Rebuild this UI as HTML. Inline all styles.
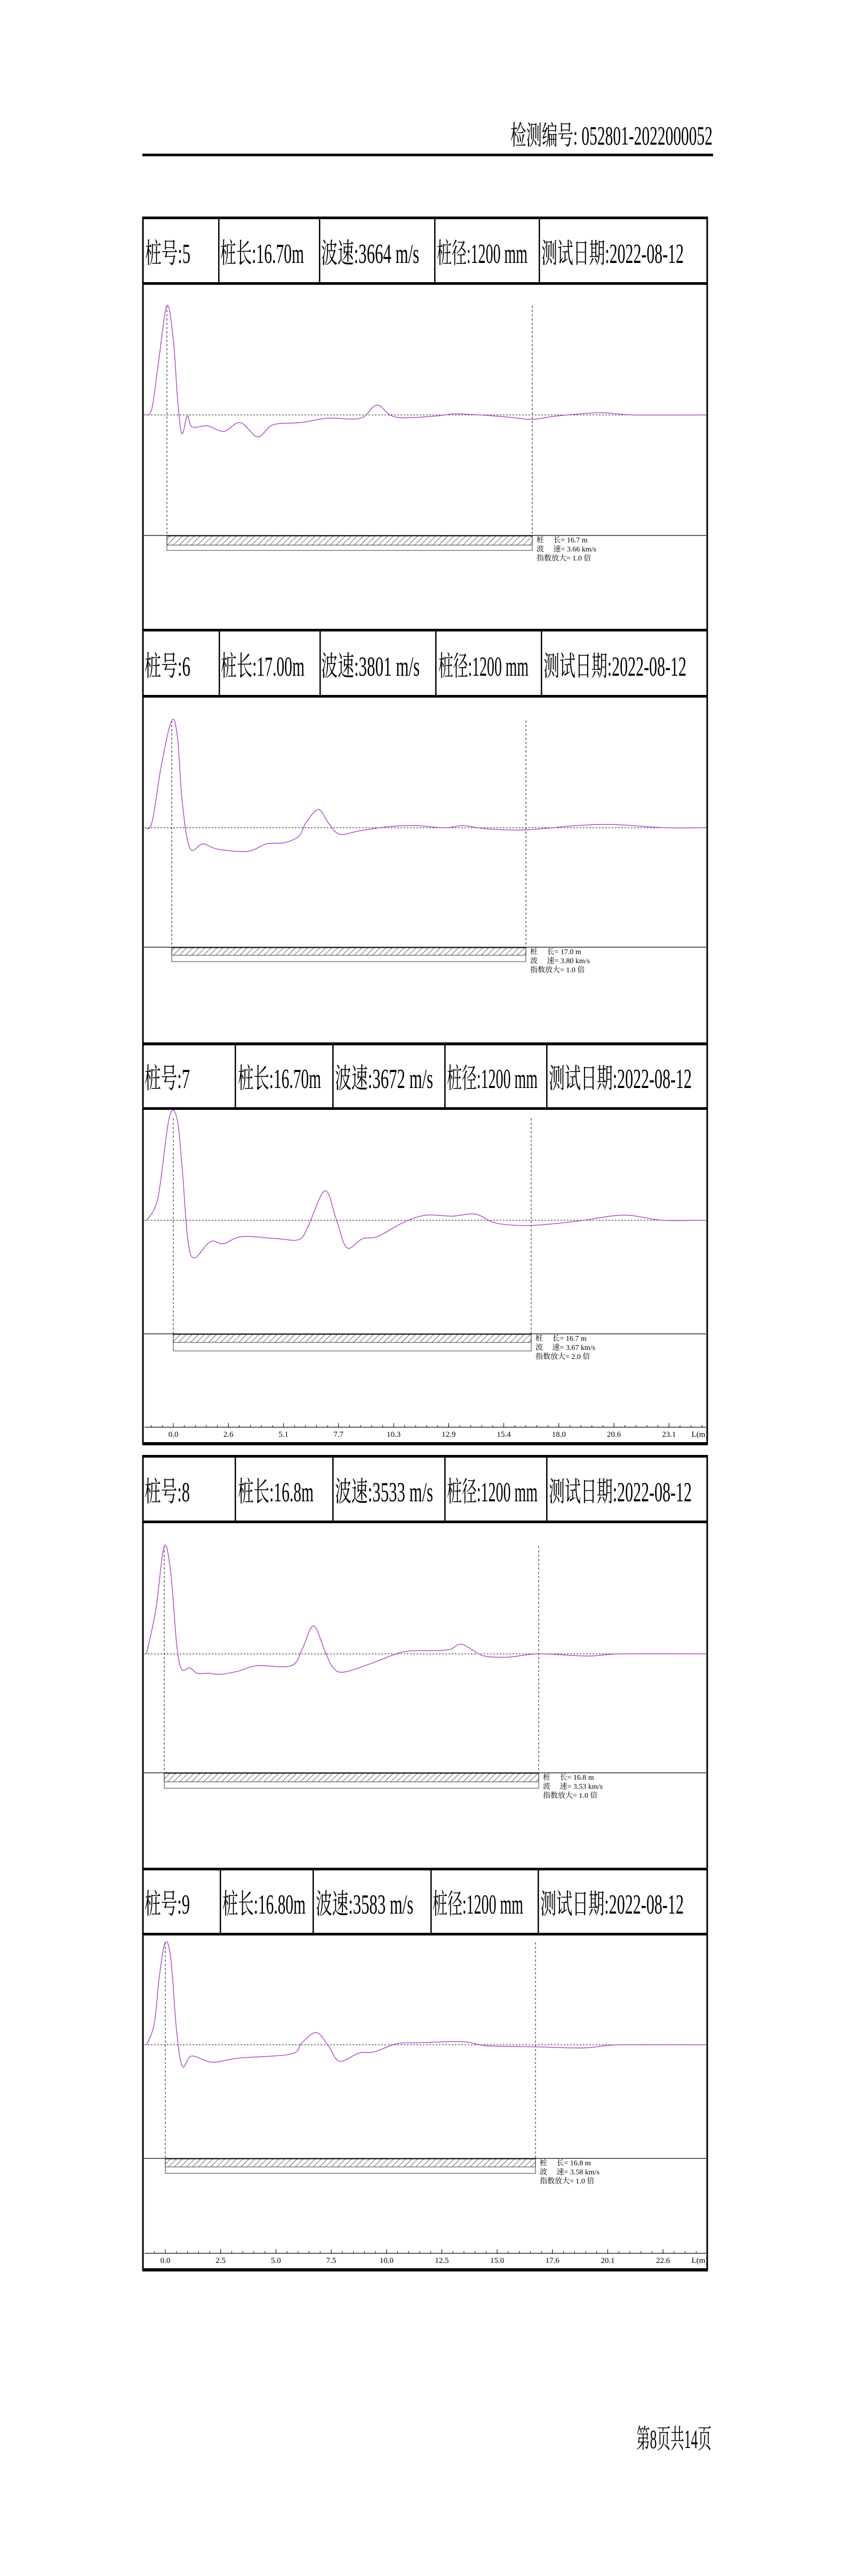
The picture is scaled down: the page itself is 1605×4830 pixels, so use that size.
<!DOCTYPE html>
<html><head><meta charset="utf-8">
<style>
html,body{margin:0;padding:0;background:#fff;}
svg{display:block;}
text{font-family:"Liberation Serif","Noto Serif CJK SC",serif;fill:#000;}
</style></head>
<body>
<svg id="page" width="1605" height="4830" viewBox="0 0 1605 4830" xmlns="http://www.w3.org/2000/svg">
<defs>
<pattern id="hatch" patternUnits="userSpaceOnUse" width="8" height="8" patternTransform="rotate(45)">
<line x1="0" y1="0" x2="0" y2="8" stroke="#000" stroke-width="1.2"/>
</pattern>
</defs>
<text x="957" y="271" font-size="50" textLength="379" lengthAdjust="spacingAndGlyphs">检测编号: 052801-2022000052</text>
<rect x="267" y="288" width="1070" height="5" fill="#000"/>
<text x="1193" y="4590" font-size="50" textLength="141" lengthAdjust="spacingAndGlyphs">第8页共14页</text>
<g id="panels"></g>
</svg>
<script>
// ---- data: pile 5 ----
const p5Header = ['桩号:5','桩长:16.70m','波速:3664 m/s','桩径:1200 mm','测试日期:2022-08-12'];
const p5Legend = ['桩　 长= 16.7 m','波　 速= 3.66 km/s','指数放大= 1.0 倍'];
const p5Length = 16.7;
const p5Dist = [-1.1,-0.7,-0.4,0,0.3,0.48,0.68,0.93,1.15,1.85,2.6,3.35,4.15,4.85,6.1,7.35,8.85,9.6,10.45,12.3,13.1,14.3,15.6,16.7,17.8,19.8,21.3,24.6];
const p5Amp  = [0,0.05,0.46,1,0.67,0.16,-0.17,-0.01,-0.11,-0.10,-0.15,-0.07,-0.2,-0.09,-0.07,-0.03,-0.03,0.09,-0.02,-0.01,0.01,0,-0.02,-0.04,-0.01,0.02,0,0];
// ---- data: pile 6 ----
const p6Header = ['桩号:6','桩长:17.00m','波速:3801 m/s','桩径:1200 mm','测试日期:2022-08-12'];
const p6Legend = ['桩　 长= 17.0 m','波　 速= 3.80 km/s','指数放大= 1.0 倍'];
const p6Length = 17.0;
const p6Dist = [-1.3,-0.95,-0.5,0,0.28,0.5,0.87,1.5,2.2,3.65,4.55,5.4,6.1,6.45,7.05,7.5,8.05,9.0,10.4,11.7,13.1,14.0,15.1,17.0,19.4,21.2,23.7,25.6];
const p6Amp  = [0,0.05,0.58,1,0.84,0.25,-0.19,-0.15,-0.2,-0.22,-0.15,-0.14,-0.08,0.05,0.17,0.05,-0.06,-0.03,0.01,0.02,0,0.02,-0.01,-0.02,0.02,0.03,0,0];
// ---- data: pile 7 ----
const p7Header = ['桩号:7','桩长:16.70m','波速:3672 m/s','桩径:1200 mm','测试日期:2022-08-12'];
const p7Legend = ['桩　 长= 16.7 m','波　 速= 3.67 km/s','指数放大= 2.0 倍'];
const p7Length = 16.7;
const p7Dist = [-1.25,-0.72,-0.2,0.17,0.42,0.67,0.97,1.72,2.34,3.2,4.8,5.85,6.27,7.07,7.6,8.1,8.83,9.53,10.75,11.8,13.0,14.1,15.1,16.7,18.8,21.0,22.8,24.9];
const p7Amp  = [0,0.22,1,1,0.49,-0.18,-0.37,-0.21,-0.23,-0.16,-0.18,-0.19,-0.07,0.29,0.01,-0.27,-0.18,-0.16,-0.02,0.05,0.04,0.06,-0.03,-0.05,-0.01,0.05,0,0];
const p7Ticks = ['0.0','2.6','5.1','7.7','10.3','12.9','15.4','18.0','20.6','23.1'];
const p7TickVals = [0,2.57,5.14,7.71,10.28,12.85,15.42,17.99,20.56,23.13];
// ---- data: pile 8 ----
const p8Header = ['桩号:8','桩长:16.8m','波速:3533 m/s','桩径:1200 mm','测试日期:2022-08-12'];
const p8Legend = ['桩　 长= 16.8 m','波　 速= 3.53 km/s','指数放大= 1.0 倍'];
const p8Length = 16.8;
const p8Dist = [-0.8,-0.38,0,0.3,0.55,0.77,1.15,1.48,2.0,2.5,3.33,4.16,5.7,6.2,6.7,7.2,7.55,8.05,9.4,10.75,12.1,12.8,13.3,13.8,14.35,15.45,16.8,19.0,20.5,24.4];
const p8Amp  = [0,0.41,1,0.74,0.1,-0.14,-0.13,-0.18,-0.18,-0.19,-0.16,-0.11,-0.11,0.05,0.26,0.03,-0.12,-0.17,-0.08,0.02,0.03,0.04,0.09,0.04,-0.02,-0.03,0,-0.02,0,0];
// ---- data: pile 9 ----
const p9Header = ['桩号:9','桩长:16.80m','波速:3583 m/s','桩径:1200 mm','测试日期:2022-08-12'];
const p9Legend = ['桩　 长= 16.8 m','波　 速= 3.58 km/s','指数放大= 1.0 倍'];
const p9Length = 16.8;
const p9Dist = [-0.85,-0.5,-0.27,0,0.25,0.5,0.77,1.19,2.13,3.32,5.7,6.2,6.85,7.4,7.9,8.8,9.47,10.5,11.5,13.5,14.6,16.8,19.0,20.6,24.5];
const p9Amp  = [0,0.21,0.67,1,0.84,0.16,-0.21,-0.11,-0.17,-0.13,-0.09,0.02,0.12,-0.01,-0.16,-0.08,-0.07,0.01,0.02,0.03,-0.01,-0.02,-0.03,0,0];
const p9Ticks = ['0.0','2.5','5.0','7.5','10.0','12.5','15.0','17.6','20.1','22.6'];
const p9TickVals = [0,2.51,5.02,7.53,10.04,12.55,15.06,17.57,20.08,22.59];

const NS='http://www.w3.org/2000/svg';
const root=document.getElementById('panels');
function mk(tag,attrs,parent){const e=document.createElementNS(NS,tag);for(const k in attrs)e.setAttribute(k,attrs[k]);(parent||root).appendChild(e);return e;}
function smoothPath(pts){
  let d='M'+pts[0][0].toFixed(1)+','+pts[0][1].toFixed(1);
  for(let i=0;i<pts.length-1;i++){
    const p0=pts[Math.max(0,i-1)],p1=pts[i],p2=pts[i+1],p3=pts[Math.min(pts.length-1,i+2)];
    const c1x=p1[0]+(p2[0]-p0[0])/6,c1y=p1[1]+(p2[1]-p0[1])/6;
    const c2x=p2[0]-(p3[0]-p1[0])/6,c2y=p2[1]-(p3[1]-p1[1])/6;
    d+='C'+c1x.toFixed(1)+','+c1y.toFixed(1)+' '+c2x.toFixed(1)+','+c2y.toFixed(1)+' '+p2[0].toFixed(1)+','+p2[1].toFixed(1);
  }
  return d;
}

const layouts=[
 {T:408,H:531,B:1181,px:313,pk:573,base:778,x2:998,bar:1004,hb:1022,b2:1032,axis:null,cols:[410,599,815,1011],tx:[[272,357],[413,570],[602,786],[819,989],[1015,1282]],hdr:p5Header,leg:p5Legend,len:p5Length,d:p5Dist,a:p5Amp,botThick:false},
 {T:1181,H:1305,B:1956,px:322,pk:1351,base:1552,x2:986,bar:1776,hb:1791,b2:1803,axis:null,cols:[411,600,817,1015],tx:[[271,357],[414,571],[602,787],[822,991],[1019,1287]],hdr:p6Header,leg:p6Legend,len:p6Length,d:p6Dist,a:p6Amp,botThick:false},
 {T:1957,H:2078,B:2707,px:325,pk:2097,base:2288,x2:996,bar:2501,hb:2517,b2:2533,axis:2676,cols:[441,624,834,1025],tx:[[271,356],[446,602],[628,812],[838,1008],[1029,1297]],hdr:p7Header,leg:p7Legend,len:p7Length,d:p7Dist,a:p7Amp,ticks:p7Ticks,tickVals:p7TickVals,botThick:true},
 {T:2730,H:2853,B:3504,px:308,pk:2899,base:3101,x2:1010,bar:3324,hb:3341,b2:3353,axis:null,cols:[441,624,834,1025],tx:[[271,356],[446,588],[628,812],[838,1008],[1029,1297]],hdr:p8Header,leg:p8Legend,len:p8Length,d:p8Dist,a:p8Amp,botThick:false},
 {T:3504,H:3626,B:4256,px:310,pk:3642,base:3834,x2:1004,bar:4047,hb:4063,b2:4075,axis:4225,cols:[413,587,808,1009],tx:[[271,356],[417,573],[592,775],[811,981],[1013,1282]],hdr:p9Header,leg:p9Legend,len:p9Length,d:p9Dist,a:p9Amp,ticks:p9Ticks,tickVals:p9TickVals,botThick:true}
];
const L=268,R=1326;
layouts.forEach((p,i)=>{
  const g=mk('g',{});
  
  
  const xs=m=>p.px+m*(p.x2-p.px)/p.len;
  const ys=v=>p.base-v*(p.base-p.pk);
  const frame=mk('rect',{x:L,y:p.T,width:R-L,height:p.B-p.T,fill:'none',stroke:'#000','stroke-width':3},g);
  
  
  mk('rect',{x:L-1,y:p.T-2,width:R-L+2,height:5,fill:'#000'},g);
  mk('rect',{x:L-1,y:p.H-2,width:R-L+2,height:5,fill:'#000'},g);
  if(p.botThick) mk('rect',{x:L-1,y:p.B-3,width:R-L+2,height:6,fill:'#000'},g);
  p.cols.forEach(c=>mk('rect',{x:c-1,y:p.T,width:2.5,height:p.H-p.T,fill:'#000'},g));
  p.hdr.forEach((t,k)=>{
    const e=mk('text',{x:p.tx[k][0],y:p.H-38,'font-size':52,textLength:p.tx[k][1]-p.tx[k][0],lengthAdjust:'spacingAndGlyphs'},g);
    e.textContent=t;
    
    
  });
  const bl=mk('line',{x1:L+3,y1:p.base,x2:R-2,y2:p.base,stroke:'#000','stroke-width':1,'stroke-dasharray':'3,3'},g);
  
  
  [p.px,p.x2].forEach(x=>{
    const v=mk('line',{x1:x,y1:p.pk,x2:x,y2:p.bar,stroke:'#000','stroke-width':1,'stroke-dasharray':'4,4'},g);
    
    
  });
  const pts=p.d.map((m,k)=>[Math.max(L+2,Math.min(R-2,xs(m))),ys(p.a[k])]);
  const c=mk('path',{d:smoothPath(pts),fill:'none',stroke:'#b04cc8','stroke-width':1.5,'stroke-linejoin':'round'},g);
  
  
  mk('line',{x1:L+2,y1:p.bar,x2:R-2,y2:p.bar,stroke:'#000','stroke-width':1.2},g);
  const hb=mk('rect',{x:p.px,y:p.bar+1,width:p.x2-p.px,height:p.hb-p.bar-1,fill:'url(#hatch)',stroke:'#000','stroke-width':1},g);
  
  
  mk('rect',{x:p.px,y:p.hb,width:p.x2-p.px,height:p.b2-p.hb,fill:'#fff',stroke:'#335','stroke-width':1},g);
  p.leg.forEach((t,k)=>{
    const e=mk('text',{x:p.x2+8,y:p.bar+13+k*17,'font-size':14},g);
    e.textContent=t;
    
    
  });
  if(p.axis){
    const ax=mk('line',{x1:L+3,y1:p.axis,x2:R-2,y2:p.axis,stroke:'#000','stroke-width':1.2},g);
    
    
    const step=p.tickVals[1]-p.tickVals[0];
    for(let m=-step;m<=p.tickVals[p.tickVals.length-1]+step;m+=step/5){
      const x=xs(m); if(x<L+4||x>R-2) continue;
      mk('line',{x1:x,y1:p.axis,x2:x,y2:p.axis-4,stroke:'#000','stroke-width':1},g);
    }
    p.tickVals.forEach((v,k)=>{
      const x=xs(v);
      mk('line',{x1:x,y1:p.axis,x2:x,y2:p.axis-8,stroke:'#000','stroke-width':1},g);
      const t=mk('text',{x:x,y:p.axis+18,'font-size':15,'text-anchor':'middle'},g);
      t.textContent=p.ticks[k];
      
      
    });
    const u=mk('text',{x:1312,y:p.axis+18,'font-size':15,'text-anchor':'middle'},g);
    u.textContent='L(m)';
    
    
  }
});
</script>
</body></html>
